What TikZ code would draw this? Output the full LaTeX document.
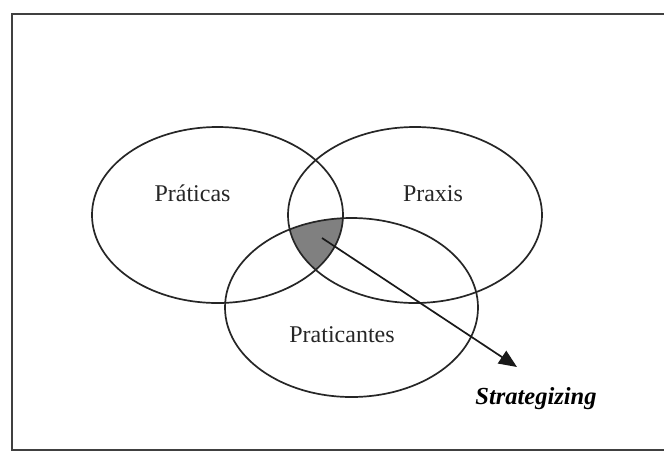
\documentclass[tikz,border=0pt]{standalone}
\usepackage{fontspec}
\setmainfont{Liberation Serif}
\usetikzlibrary{shapes.geometric,arrows.meta}
\begin{document}
\begin{tikzpicture}[x=1pt,y=-1pt,
  setshape/.style={ellipse, draw=black!85, line width=1.7pt, inner sep=0pt},
  lbl/.style={font=\fontsize{24}{28}\selectfont, text=black!85, anchor=base},
  frameline/.style={draw=black!75, line width=2.2pt}]
\useasboundingbox (0,0) rectangle (664,451);
\fill[white] (0,0) rectangle (664,451);
% frame
\draw[frameline] (664,14) -- (12,14) -- (12,450) -- (664,450);
% shaded core
\begin{scope}
  \clip (217.5,215) ellipse [x radius=125.5, y radius=88];
  \clip (415,215) ellipse [x radius=127, y radius=88];
  \fill[black!50] (351.5,307.5) ellipse [x radius=126.5, y radius=89.5];
\end{scope}
% sets
\node[setshape, minimum width=251pt, minimum height=176pt] (praticas) at (217.5,215) {};
\node[setshape, minimum width=254pt, minimum height=176pt] (praxis) at (415,215) {};
\node[setshape, minimum width=253pt, minimum height=179pt] (praticantes) at (351.5,307.5) {};
% labels
\node[lbl] (lpraticas) at (192.5,201) {Práticas};
\node[lbl] (lpraxis) at (433,201) {Praxis};
\node[lbl] (lpraticantes) at (342,342) {Praticantes};
\node[lbl, font=\fontsize{24.5}{28}\selectfont\bfseries\itshape, text=black] (lstrat) at (536,404) {Strategizing};
% arrow
\coordinate (core) at (322,238);
\coordinate (tip) at (517,367);
\draw[line width=1.7pt, black!90, -{Triangle[length=18pt,width=15pt]}] (core) -- (tip);
\end{tikzpicture}
\end{document}
